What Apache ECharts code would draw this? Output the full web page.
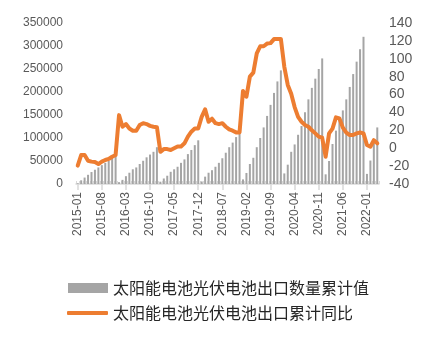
<!DOCTYPE html>
<html>
<head>
<meta charset="utf-8">
<script src="https://cdn.jsdelivr.net/npm/echarts@6/dist/echarts.min.js"></script>
<style>
html,body{margin:0;padding:0;background:#fff;}
#c{width:429px;height:341px;}
</style>
</head>
<body>
<div id="c"></div>
<script>
var categories = [
 '2015-01','2015-02','2015-03','2015-04','2015-05','2015-06','2015-07','2015-08','2015-09','2015-10','2015-11','2015-12',
 '2016-01','2016-02','2016-03','2016-04','2016-05','2016-06','2016-07','2016-08','2016-09','2016-10','2016-11','2016-12',
 '2017-01','2017-02','2017-03','2017-04','2017-05','2017-06','2017-07','2017-08','2017-09','2017-10','2017-11','2017-12',
 '2018-01','2018-02','2018-03','2018-04','2018-05','2018-06','2018-07','2018-08','2018-09','2018-10','2018-11','2018-12',
 '2019-01','2019-02','2019-03','2019-04','2019-05','2019-06','2019-07','2019-08','2019-09','2019-10','2019-11','2019-12',
 '2020-01','2020-02','2020-03','2020-04','2020-05','2020-06','2020-07','2020-08','2020-09','2020-10','2020-11','2020-12',
 '2021-01','2021-02','2021-03','2021-04','2021-05','2021-06','2021-07','2021-08','2021-09','2021-10','2021-11','2021-12',
 '2022-01','2022-02','2022-03','2022-04'
];
var exportQty = [
 1500, 8000, 14000, 20000, 26000, 31000, 36000, 41000, 46000, 50000, 57000, 65000,
 4000, 9000, 17000, 24500, 32000, 36000, 43500, 50500, 58000, 64000, 70000, 80000,
 5000, 12000, 18000, 26500, 32000, 37500, 46000, 53500, 65000, 74000, 84500, 95000,
 5500, 16000, 24500, 30000, 37500, 46000, 56000, 68000, 80000, 90000, 102000, 113000,
 10000, 24000, 43500, 57000, 80000, 100000, 123000, 148000, 172000, 198000, 223000, 247000,
 23000, 42000, 70000, 86000, 107000, 126000, 156000, 184000, 209000, 229000, 250000, 273000,
 21000, 50000, 87000, 116000, 142000, 160000, 184000, 211000, 239000, 266000, 293000, 320000,
 22000, 51000, 90000, 123000
];
var exportYoY = [
 -19.5, -7.6, -7.6, -14, -15, -15.5, -17.7, -15, -13.2, -12, -9.5, -7.6,
 37, 24, 27, 22, 19.6, 19.6, 26, 28, 27, 25, 24, 23.4,
 -4, -1, -1, -2, 0, 2, 2, 5.5, 13, 18.5, 22, 22,
 35, 43.5, 29.6, 33, 28, 27, 28, 24, 21, 19.6, 17.7, 17.7,
 64, 57.6, 80, 84.5, 106, 114, 114, 117, 117.5, 122, 122, 122,
 91, 70.7, 61, 46, 35, 29.6, 26, 24, 20, 16.6, 13, 11.7,
 -9.5, 16.6, 22, 34.5, 33.4, 23, 17.4, 14.8, 14.8, 16.6, 17.5, 16.6,
 3.6, 1.7, 9, 5.5
];
var seriesNames = ['太阳能电池光伏电池出口数量累计值', '太阳能电池光伏电池出口累计同比'];

var chart = echarts.init(document.getElementById('c'), null, {renderer: 'canvas'});
var labelColor = '#595959';
var fontFam = '"Liberation Sans", Arial, sans-serif';
chart.setOption({
  animation: false,
  backgroundColor: '#ffffff',
  grid: {left: 76, right: 50, top: 23, bottom: 157},
  legend: [
    {
      data: [{name: seriesNames[0], icon: 'rect'}],
      left: 68, top: 280, padding: 0, itemWidth: 40, itemHeight: 10,
      textStyle: {fontSize: 16, color: '#262626', fontFamily: '"Noto Sans CJK SC", sans-serif'}
    },
    {
      data: [{name: seriesNames[1], icon: 'roundRect'}],
      left: 67, top: 305, padding: 0, itemWidth: 41, itemHeight: 4,
      textStyle: {fontSize: 16, color: '#262626', fontFamily: '"Noto Sans CJK SC", sans-serif'}
    }
  ],
  xAxis: [
    {
      type: 'category', data: categories, boundaryGap: true,
      axisLine: {onZero: false, lineStyle: {color: '#D9D9D9', width: 1.5}},
      axisTick: {show: true, inside: true, length: 3, interval: 0, lineStyle: {color: '#D9D9D9'}},
      axisLabel: {interval: 6, rotate: 90, color: labelColor, fontSize: 12, fontFamily: fontFam, margin: 8}
    },
    {
      type: 'category', data: categories, boundaryGap: true, position: 'bottom',
      axisLine: {show: false, onZero: false},
      axisTick: {show: true, alignWithLabel: true, length: 6, interval: 6, lineStyle: {color: '#D9D9D9', width: 1.5}},
      axisLabel: {show: false}
    }
  ],
  yAxis: [
    {
      type: 'value', min: 0, max: 350000, interval: 50000,
      axisLine: {show: false}, axisTick: {show: false}, splitLine: {show: false},
      axisLabel: {color: labelColor, fontSize: 12, fontFamily: fontFam, margin: 13,
        formatter: function (v) { return String(v); }}
    },
    {
      type: 'value', min: -40, max: 140, interval: 20, position: 'right',
      axisLine: {show: false}, axisTick: {show: false}, splitLine: {show: false},
      axisLabel: {color: labelColor, fontSize: 14, fontFamily: fontFam, margin: 10}
    }
  ],
  series: [
    {
      name: seriesNames[0], type: 'bar', data: exportQty, yAxisIndex: 0, xAxisIndex: 0,
      barWidth: 2, itemStyle: {color: '#A5A5A5'}
    },
    {
      name: seriesNames[1], type: 'line', data: exportYoY, yAxisIndex: 1, xAxisIndex: 0,
      showSymbol: false, symbol: 'none', smooth: false,
      lineStyle: {color: '#ED7D31', width: 4, cap: 'round', join: 'round'},
      itemStyle: {color: '#ED7D31'}
    }
  ]
});
</script>
</body>
</html>
